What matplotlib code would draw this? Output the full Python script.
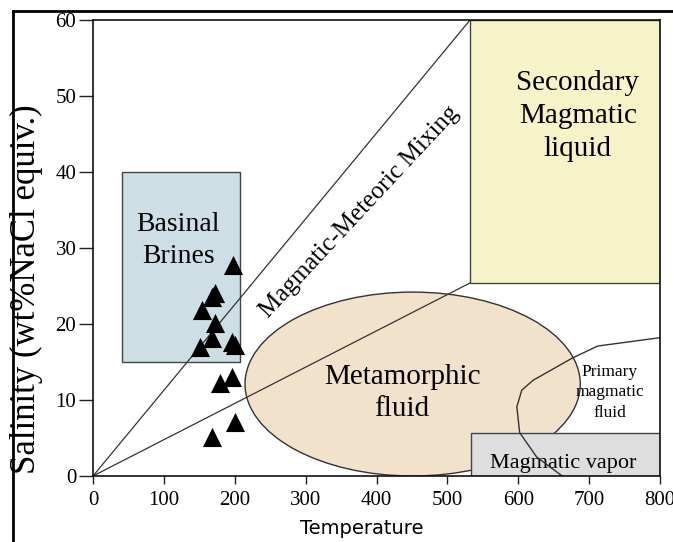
import numpy as np
import matplotlib
matplotlib.use("Agg")
import matplotlib.pyplot as plt
from matplotlib.patches import Rectangle, Ellipse
from matplotlib.lines import Line2D

# fluid inclusion data (homogenisation temperature, salinity)
temp = [197, 172, 168, 154, 172, 168, 151, 196, 200, 196, 179, 200, 168]
salinity = [27.8, 24.1, 23.6, 21.8, 20.1, 18.2, 17.0, 17.6, 17.2, 13.0, 12.2, 7.1, 5.1]

# field boundaries
basinal_box = (41, 15, 207, 40)      # x0, y0, x1, y1
secondary_box = (532, 25.4, 800, 60)
vapor_box = (533, 0, 800, 5.7)
meta_ellipse = (451, 12.1, 473, 24.2)  # cx, cy, width, height
mixing_upper = ([0, 532], [0, 60])
mixing_lower = ([0, 532], [0, 25.4])
primary_x = [800, 712, 676, 621, 605, 598, 602, 626, 662]
primary_y = [18.2, 17.1, 15.5, 12.6, 11.3, 9.1, 5.7, 2.5, 0]

xticks = [0, 100, 200, 300, 400, 500, 600, 700, 800]
yticks = [0, 10, 20, 30, 40, 50, 60]

serif = "Liberation Serif"
W, H = 673, 542

fig = plt.figure(figsize=(W / 100, H / 100), dpi=100)
ax = fig.add_axes([93 / W, 1 - 476 / H, (660 - 93) / W, (476 - 20) / H])
ax.set_xlim(0, 800)
ax.set_ylim(0, 60)

# shaded fields
x0, y0, x1, y1 = basinal_box
ax.add_patch(Rectangle((x0, y0), x1 - x0, y1 - y0, facecolor="#cddee4",
                       edgecolor="#444444", lw=1.0, zorder=1))
x0, y0, x1, y1 = secondary_box
ax.add_patch(Rectangle((x0, y0), x1 - x0, y1 - y0, facecolor="#f6f3c9",
                       edgecolor="#444444", lw=1.0, zorder=1))
cx, cy, ew, eh = meta_ellipse
ax.add_patch(Ellipse((cx, cy), ew, eh, facecolor="#f2e2cc",
                     edgecolor="#333333", lw=1.0, zorder=1.2))
x0, y0, x1, y1 = vapor_box
ax.add_patch(Rectangle((x0, y0), x1 - x0, y1 - y0, facecolor="#dedede",
                       edgecolor="#444444", lw=1.0, zorder=1.4))

# mixing trend lines and primary magmatic boundary
ax.plot(*mixing_upper, color="#333333", lw=0.9, zorder=2)
ax.plot(*mixing_lower, color="#333333", lw=0.9, zorder=2)
ax.plot(primary_x, primary_y, color="#333333", lw=1.0, zorder=2.2)

ax.scatter(temp, salinity, marker="^", s=190, color="black", linewidths=0, zorder=3)

# field labels
ax.text(120, 31.0, "Basinal\nBrines", family=serif, fontsize=20, ha="center",
        va="center", linespacing=1.35, zorder=4)
ax.text(684, 47.4, "Secondary\nMagmatic\nliquid", family=serif, fontsize=21,
        ha="center", va="center", linespacing=1.35, zorder=4)
ax.text(436, 10.9, "Metamorphic\nfluid", family=serif, fontsize=21,
        ha="center", va="center", linespacing=1.3, zorder=4)
ax.text(729, 11.0, "Primary\nmagmatic\nfluid", family=serif, fontsize=12.5,
        ha="center", va="center", linespacing=1.35, zorder=4)
ax.text(664, 1.7, "Magmatic vapor", family=serif, fontsize=16,
        ha="center", va="center", zorder=1.6)
ax.text(376, 34.8, "Magmatic-Meteoric Mixing", family=serif, fontsize=18,
        ha="center", va="center", rotation=47, rotation_mode="anchor", zorder=4)

ax.set_xticks(xticks)
ax.set_yticks(yticks)
ax.tick_params(axis="both", direction="out", labelsize=15, width=1.0, color="#222222")
ax.tick_params(axis="x", length=6, pad=5)
ax.tick_params(axis="y", length=10, pad=2)
for lab in ax.get_xticklabels() + ax.get_yticklabels():
    lab.set_family(serif)
for sp in ax.spines.values():
    sp.set_linewidth(1.2)
    sp.set_color("#111111")

fig.text(26 / W, 1 - 289 / H, "Salinity (wt%NaCl equiv.)", family=serif,
         fontsize=25, rotation=90, ha="center", va="center")
fig.text(362 / W, 1 - 528 / H, "Temperature", family="DejaVu Sans",
         fontsize=14, ha="center", va="center")

# outer frame (cropped on right and bottom)
fig.add_artist(Line2D([13 / W, 13 / W], [0, 1 - 11 / H], transform=fig.transFigure,
                      color="black", lw=2))
fig.add_artist(Line2D([13 / W, 1], [1 - 11 / H, 1 - 11 / H], transform=fig.transFigure,
                      color="black", lw=2))

fig.savefig("out.png", dpi=100)
